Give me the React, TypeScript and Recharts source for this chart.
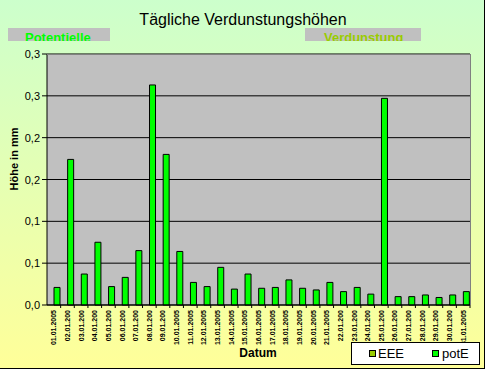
import React from "react";
import { BarChart, Bar, XAxis, YAxis, CartesianGrid } from "recharts";

const dates = [
  "01.01.2005", "02.01.200", "03.01.200", "04.01.200", "05.01.200", "06.01.200",
  "07.01.200", "08.01.200", "09.01.200", "10.01.2005", "11.01.2005", "12.01.2005",
  "13.01.2005", "14.01.2005", "15.01.2005", "16.01.2005", "17.01.2005", "18.01.2005",
  "19.01.2005", "20.01.2005", "21.01.2005", "22.01.200", "23.01.200", "24.01.200",
  "25.01.200", "26.01.200", "27.01.200", "28.01.200", "29.01.200", "30.01.200",
  "31.01.2005",
];

const potE = [
  0.021, 0.174, 0.037, 0.075, 0.022, 0.033, 0.065, 0.263, 0.18, 0.064, 0.027,
  0.022, 0.045, 0.019, 0.037, 0.02, 0.021, 0.03, 0.02, 0.018, 0.027, 0.016,
  0.021, 0.013, 0.247, 0.01, 0.01, 0.012, 0.009, 0.012, 0.016,
];

const eee = [
  0, 0, 0, 0, 0, 0, 0, 0, 0, 0, 0, 0, 0, 0, 0, 0, 0, 0, 0, 0, 0, 0, 0, 0, 0, 0,
  0, 0, 0, 0, 0,
];

const yTicks = [0, 0.05, 0.1, 0.15, 0.2, 0.25, 0.3];
const yTickLabels = ["0,0", "0,1", "0,1", "0,2", "0,2", "0,3", "0,3"];

const data = dates.map((d, i) => ({ date: d, EEE: eee[i], potE: potE[i] }));

const FONT = "'Liberation Sans', Arial, sans-serif";
const OLIVE = "#99CC00";
const GREEN = "#00FF00";

const BAND = 423 / dates.length;

function DateTick(props: any) {
  const { x, y, payload } = props;
  return (
    <g>
      <line x1={x + BAND / 2} y1={y} x2={x + BAND / 2} y2={y + 3} stroke="#000" />
      <text
        x={0}
        y={0}
        transform={`translate(${x + 2.5},${y + 5}) rotate(-90)`}
        textAnchor="end"
        fontFamily={FONT}
        fontWeight="bold"
        fontSize={7}
        fill="#000"
      >
        {payload.value}
      </text>
    </g>
  );
}

function ValueTick(props: any) {
  const { x, y, payload } = props;
  const idx = yTicks.indexOf(payload.value);
  return (
    <text x={x} y={y + 4} textAnchor="end" fontFamily={FONT} fontSize={11} fill="#000">
      {yTickLabels[idx]}
    </text>
  );
}

export default function App() {
  return (
    <div
      style={{
        position: "absolute",
        left: 0,
        top: 0,
        width: 485,
        height: 369,
        background: "linear-gradient(to bottom, #CCFFCC, #FFFF99)",
        borderRight: "1px solid #000",
        borderBottom: "1px solid #000",
        boxSizing: "border-box",
        overflow: "hidden",
      }}
    >
      <BarChart
        width={485}
        height={369}
        data={data}
        margin={{ top: 54, right: 15, bottom: 0, left: 0 }}
        barCategoryGap={1}
        barGap={0}
      >
        <CartesianGrid fill="#C0C0C0" stroke="#000" vertical={false} strokeOpacity={1} />
        <XAxis
          dataKey="date"
          height={64}
          interval={0}
          tick={<DateTick />}
          tickLine={false}
          tickSize={0}
          tickMargin={0}
          axisLine={{ stroke: "#000" }}
        />
        <YAxis
          width={47}
          domain={[0, 0.3]}
          ticks={yTicks}
          interval={0}
          tick={<ValueTick />}
          tickSize={5}
          tickLine={{ stroke: "#000" }}
          axisLine={{ stroke: "#000" }}
        />
        <Bar dataKey="EEE" fill={OLIVE} stroke="#000" strokeWidth={1} isAnimationActive={false} />
        <Bar dataKey="potE" fill={GREEN} stroke="#000" strokeWidth={1} isAnimationActive={false} />
      </BarChart>

      <svg
        width={485}
        height={369}
        style={{ position: "absolute", left: 0, top: 0, pointerEvents: "none" }}
      >
        <defs>
          <clipPath id="c1">
            <rect x={8} y={28} width={102} height={13} />
          </clipPath>
          <clipPath id="c2">
            <rect x={305} y={28} width={116} height={13} />
          </clipPath>
        </defs>
        <line x1={47} y1={54.5} x2={470} y2={54.5} stroke="#808080" />
        <line x1={470.5} y1={54} x2={470.5} y2={305} stroke="#808080" />
        <text x={243} y={25} textAnchor="middle" fontFamily={FONT} fontSize={16} fill="#000">
          Tägliche Verdunstungshöhen
        </text>
        <rect x={8} y={28} width={102} height={13} fill="#C0C0C0" />
        <text x={25} y={42} fontFamily={FONT} fontWeight="bold" fontSize={13} fill={GREEN} clipPath="url(#c1)">
          Potentielle
        </text>
        <rect x={305} y={28} width={116} height={13} fill="#C0C0C0" />
        <text x={324} y={42} fontFamily={FONT} fontWeight="bold" fontSize={13} fill={OLIVE} clipPath="url(#c2)">
          Verdunstung
        </text>
        <text
          transform="translate(18,159) rotate(-90)"
          textAnchor="middle"
          fontFamily={FONT}
          fontWeight="bold"
          fontSize={11}
          fill="#000"
        >
          Höhe in mm
        </text>
        <text x={258} y={357} textAnchor="middle" fontFamily={FONT} fontWeight="bold" fontSize={12} fill="#000">
          Datum
        </text>
        <rect x={351.5} y={342.5} width={128} height={22} fill="#fff" stroke="#000" />
        <rect x={369.5} y={350.5} width={6} height={6} fill={OLIVE} stroke="#000" />
        <text x={378} y={358} fontFamily={FONT} fontSize={13} fill="#000">
          EEE
        </text>
        <rect x={432.5} y={350.5} width={6} height={6} fill={GREEN} stroke="#000" />
        <text x={442} y={358} fontFamily={FONT} fontSize={13} fill="#000">
          potE
        </text>
      </svg>
    </div>
  );
}
